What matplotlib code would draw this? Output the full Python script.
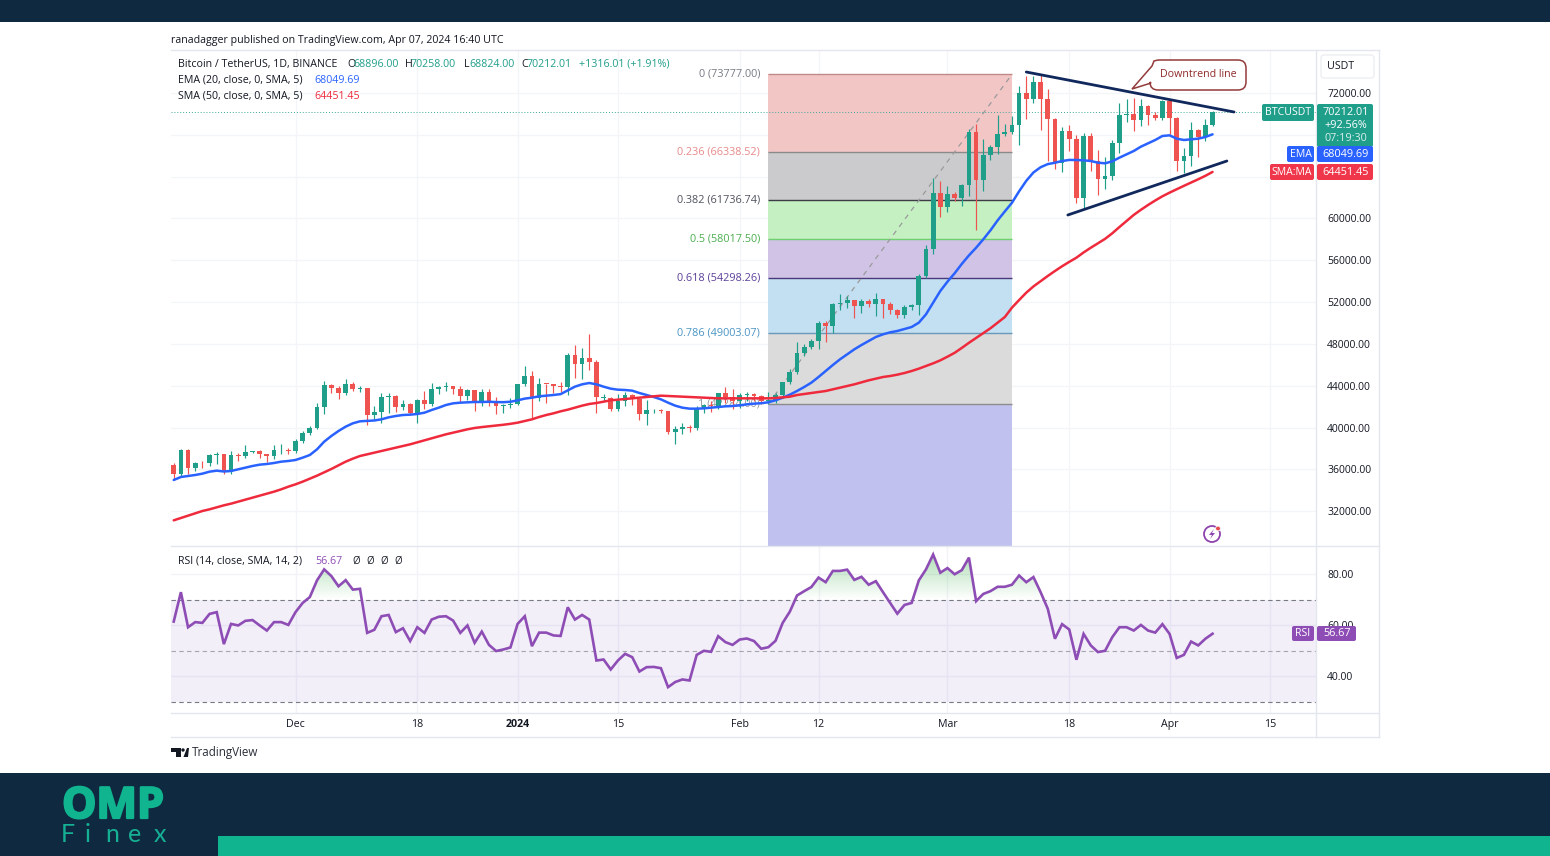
import numpy as np
import matplotlib
matplotlib.use("Agg")
import matplotlib.pyplot as plt
import matplotlib.patheffects as pe
from matplotlib.patches import Rectangle, FancyBboxPatch, PathPatch, Polygon, Circle
from matplotlib.path import Path

# ---------- data ----------
first_day = -17  # day number of first candle, Dec 1 = 0
opens = [36462,35551,37880,36154,36596,36568,37359,37448,35741,37408,37294,37713,37780,37447,37242,37818,37854,
 37723,38682,39457,39973,41980,44080,43773,43293,44187,43720,43790,41243,41450,42890,43022,41940,42278,41374,42657,42270,43668,43861,43970,43702,42991,43576,42508,43428,42563,42066,42140,
 42283,44179,44946,42845,44170,44162,43958,43929,46951,46110,46632,46314,42830,42842,41732,42511,43137,42776,41327,41659,41696,41580,39568,39897,40084,39961,41816,42120,42035,43288,42952,
 42582,43075,43185,42992,42583,42658,43084,44341,45288,47132,47751,48293,49958,49742,51826,51938,52160,51663,52122,51779,52258,51849,51283,50744,51568,51728,54476,57037,62432,
 61130,62387,61980,63168,68245,63724,66074,66823,68124,68313,68955,72000,71470,73072,71388,69499,65300,68393,67609,61937,67840,65501,63796,64037,67211,69880,69988,69451,70780,69850,69582,
 71280,69649,65463,65963,68487,67820,68896]
highs = [36646,37921,37921,36741,36805,37506,37666,37506,37761,37602,38335,37794,37840,37506,38335,38399,38017,
 38910,39675,40152,42320,44456,44201,43978,44616,44350,43978,43810,42065,43340,43340,43090,42639,42320,42756,43500,44233,44000,44393,44000,43940,43659,43600,43659,43658,42925,42250,42798,
 44200,45890,45412,44775,44200,44200,44360,47102,47899,47580,48983,46432,43180,42925,43244,43435,43200,42800,42606,41745,41810,41600,40152,40470,40216,42064,42288,42543,43300,43882,43658,
 43270,43435,43300,43100,43435,43340,44360,45571,48217,47962,48441,50194,50194,51947,52744,52585,52171,52266,52330,52904,52330,52000,51300,51700,51788,54721,57463,63902,63584,
 63105,62500,63265,68600,69000,67600,67000,69900,69000,69800,72670,73626,73626,73777,72351,69641,68780,68908,67952,68143,68143,66549,65880,67473,71012,71395,71554,71395,70900,70183,71331,
 71395,69700,66772,69227,68589,69545,70258]
lows = [35052,35371,35530,35849,36104,36295,36486,35594,35594,36805,37124,37602,37124,36741,36964,37506,37443,
 37538,38527,39260,39834,41332,43277,42703,43085,43500,43436,40248,40790,40471,41428,41523,41683,41268,40471,41746,42065,43245,43500,43181,42448,42607,41587,42065,42064,41267,41427,41905,
 42160,43977,40949,42543,42383,43340,43435,43117,44711,44615,45476,41427,42543,41586,41586,42065,42160,40694,40247,41427,41427,39355,38463,39355,39610,39737,41427,41522,41745,42383,41745,
 41841,42543,42543,42288,42224,42383,42862,44137,45093,46847,47548,47548,48217,49078,51214,51469,50513,50991,51533,50672,50449,50895,50449,50513,51278,50768,54275,56634,60172,
 60651,61671,61193,62149,58865,62627,65600,66200,67900,68047,66995,69482,71076,68462,65497,64700,64477,66453,61448,60938,64540,62213,62851,63680,66294,69227,68366,68844,68908,69418,69418,
 68047,64540,64381,65018,65911,67410,68824]
closes = [35551,37880,36154,36596,36568,37359,37448,35741,37408,37294,37713,37780,37447,37242,37818,37854,37723,
 38682,39457,39973,41980,44080,43773,43293,44187,43720,43790,41243,41450,42890,43022,41940,42278,41374,42657,42270,43668,43861,43970,43702,42991,43576,42508,43428,42563,42066,42140,42283,
 44179,44946,42845,44151,44162,43958,43929,46951,46110,46632,46314,42893,42880,41732,42511,43137,42776,41327,41659,41696,41580,39568,39897,40084,39961,41816,42120,42035,43288,42952,42582,
 43075,43185,42992,42583,42658,43084,44341,45288,47132,47751,48293,49958,49742,51826,51938,52160,51663,52122,51779,52258,51849,51283,50744,51568,51728,54476,57037,62432,61130,
 62387,61980,63168,68245,63724,66074,66823,68124,68313,68955,72000,71470,73072,71388,69499,65300,68393,67609,61937,67840,65501,63796,64037,67211,69880,69988,69451,70780,69850,69582,71280,
 69649,65463,65963,68487,67820,68896,70212]
ema20 = [34988,35275,35371,35466,35594,35785,35880,35800,35849,36008,36168,36327,36455,36518,36614,36741,36805,36901,37124,37379,37921,38654,39196,39674,40089,40408,40600,40640,40680,40791,40981,41109,41205,41236,41300,41428,41683,41906,42161,42320,42384,42416,42448,42448,42470,
 42440,42430,42470,42607,42770,42860,42989,43053,43117,43200,43563,43914,44137,44264,44137,43914,43722,43627,43595,43531,43308,43117,42925,42702,42383,42096,41905,41810,41810,41842,41905,41969,42033,42065,42128,42224,42288,42330,42420,
 42610,42862,43148,43499,43881,44296,44838,45412,45986,46528,47006,47484,47899,48281,48664,48919,49110,49238,49429,49620,50035,50831,51947,53063,53956,54757,55654,56470,57204,58005,58865,59817,60669,
 61500,62600,63600,64400,64900,65200,65330,65497,65600,65592,65561,65497,65337,65274,65465,65815,66134,66453,66868,67186,67505,67888,67952,67633,67505,67569,67633,67792,68049]
sma50 = [31130,31354,31577,31800,32023,32183,32374,32565,32725,32916,33107,33298,33490,33681,33872,34095,34350,34573,34829,35115,35402,35721,36040,36391,36741,37030,37283,37443,37602,37762,37921,38081,38240,38399,38591,38782,38973,39165,39356,39515,39674,39834,39961,40050,40120,
 40190,40270,40360,40471,40630,40789,41013,41204,41363,41555,41714,41905,42097,42256,42351,42479,42607,42670,42734,42798,42862,42925,42989,43053,43021,42989,42957,42925,42893,42862,42830,42798,42798,42798,42798,42798,42798,42798,42798,42830,42893,42957,
 43116,43212,43308,43403,43499,43659,43818,43977,44137,44328,44519,44679,44838,44933,45061,45220,45412,45635,45890,46145,46432,46782,47150,47620,48110,48570,49020,49500,50030,50570,
 51469,52200,52903,53500,54000,54500,54976,55430,55850,56250,56750,57200,57620,58050,58580,59180,59760,60340,60830,61290,61720,62120,62470,62800,63120,63430,63750,64080,64451]
rsi14 = [61.4,72.9,59.2,61.2,60.9,64.4,65.1,52.6,60.5,59.9,61.7,62.0,59.9,57.9,61.2,61.2,60.1,65.1,68.7,71.0,77.5,81.8,79.2,75.2,77.6,73.9,74.2,57.0,58.2,63.5,64.0,57.3,58.8,53.8,59.2,57.0,62.2,63.3,63.5,61.8,57.0,59.9,53.1,57.5,52.3,49.9,50.5,51.3,60.5,63.5,51.8,57.1,57.1,56.0,55.8,67.0,62.2,64.0,62.2,46.2,46.6,42.7,46.2,48.8,47.5,41.9,43.6,43.7,43.2,35.8,37.8,38.8,38.4,48.4,50.0,49.6,55.7,53.4,
 52.3,54.4,54.8,53.8,50.8,51.4,53.9,60.9,65.3,71.6,73.3,74.9,78.6,76.8,81.2,81.2,81.7,77.7,78.9,75.8,77.2,72.9,68.7,64.5,67.9,68.7,77.5,81.8,87.6,80.5,82.3,79.9,81.5,86.4,69.4,72.2,73.3,75.0,75.0,75.8,79.4,76.8,78.8,72.9,66.4,54.7,60.4,58.3,46.5,56.6,52.1,49.5,50.0,55.3,59.2,59.2,57.9,60.1,57.9,57.1,60.4,56.6,47.2,48.4,53.6,52.1,54.7,56.67]
assert len(opens)==len(highs)==len(lows)==len(closes)==len(ema20)==len(sma50)==len(rsi14)==146

price_ticks = [32000,36000,40000,44000,48000,52000,56000,60000,64000,68000,72000]
hidden_price_labels = [64000,68000]   # covered by the price tags in the reference
rsi_ticks = [40,60,80]
time_ticks = [0,17,31,45,62,73,91,108,122,136]
time_labels = ["Dec","18","2024","15","Feb","12","Mar","18","Apr","15"]
fib_levels = [73777.00,66338.52,61736.74,58017.50,54298.26,49003.07,42284.00]
fib_ratio = ["0","0.236","0.382","0.5","0.618","0.786","1"]
fib_line = ["#c08a8a","#8a8a8a","#3c3c46","#6fd06f","#4a3a78","#6a98b8","#8c8c8c"]
fib_fill = ["#f3c6c6","#cbcbcd","#c4f0c2","#d0c3e6","#c3dff2","#dbdbdb"]
fib_text = ["#787b86","#e88a8a","#50535e","#4caf50","#5b3f99","#4a94c4","#9598a1"]
fib_start, fib_end, fib_floor = 66, 100, 28675
down_line_x, down_line_y = [102.0,131.0],[74008,70183]
up_line_x, up_line_y = [107.8,130.0],[60332,65497]

W,H = 1550,856
GREEN,RED,BLUE,SRED,PURPLE = "#1f9e8a","#ef5350","#2962ff","#ee2a3c","#8e4db5"
FONT = "Open Sans"
plt.rcParams["font.family"] = [FONT,"DejaVu Sans"]

fig = plt.figure(figsize=(W/100,H/100),dpi=100,facecolor="white")
def axpx(x0,y0,x1,y1,**k):
    return fig.add_axes([x0/W,1-y1/H,(x1-x0)/W,(y1-y0)/H],**k)

days = first_day + np.arange(len(opens))
xlim = (-17.38,142.44)

# ---------- price pane ----------
ax = axpx(171,51,1316,546)
ax.set_xlim(*xlim); ax.set_ylim(28675,76017)
ax.set_xticks(time_ticks); ax.set_yticks(price_ticks)
ax.grid(True,color="#f3f5f9",lw=1,zorder=0); ax.set_axisbelow(True)
ax.tick_params(left=False,bottom=False,labelleft=False,labelbottom=False,right=False,
               labelright=True,pad=4.5,labelsize=7.5,labelcolor="#131722")
ax.yaxis.set_major_formatter(lambda v,p:"" if v in hidden_price_labels else f"{v:.2f}")
for s in ax.spines.values(): s.set_visible(False)

levels = fib_levels+[fib_floor]
for i,c in enumerate(fib_fill):
    ax.add_patch(Rectangle((fib_start,levels[i+1]),fib_end-fib_start,levels[i]-levels[i+1],fc=c,ec="none",zorder=1))
ax.add_patch(Rectangle((fib_start,fib_floor),fib_end-fib_start,fib_levels[-1]-fib_floor,fc="#c1c1ef",ec="none",zorder=1))
for i,(v,c) in enumerate(zip(fib_levels,fib_line)):
    ax.plot([fib_start,fib_end],[v,v],color=c,lw=1,zorder=1.5,solid_capstyle="butt")
    ax.annotate(f"{fib_ratio[i]} ({v:.2f})",(fib_start,v),xytext=(-6,0),textcoords="offset points",
                ha="right",va="center",fontsize=7.8,color=fib_text[i],zorder=1.6)
ax.plot([fib_start,fib_end],[fib_levels[-1],fib_levels[0]],color="#9a9a9a",lw=0.9,ls=(0,(4,4)),zorder=1.6)
ax.axhline(closes[-1],color="#3fa89a",lw=0.7,ls=(0,(1,2)),zorder=2)

cols = [GREEN if c>=o else RED for o,c in zip(opens,closes)]
ax.vlines(days,lows,highs,colors=cols,lw=0.85,zorder=3)
bodies = [max(abs(c-o),60) for o,c in zip(opens,closes)]
ax.bar(days,bodies,bottom=np.minimum(opens,closes),width=0.66,color=cols,lw=0,zorder=3.1)

ax.plot(days,ema20,color=BLUE,lw=1.8,zorder=4,solid_capstyle="round")
ax.plot(days,sma50,color=SRED,lw=1.8,zorder=4,solid_capstyle="round")
ax.plot(down_line_x,down_line_y,color="#10285c",lw=2,zorder=5,solid_capstyle="round")
ax.plot(up_line_x,up_line_y,color="#10285c",lw=2,zorder=5,solid_capstyle="round")

# ---------- RSI pane ----------
ar = axpx(171,546.5,1316,713.5)
ar.set_xlim(*xlim); ar.set_ylim(25.5,90.74)
ar.set_xticks(time_ticks); ar.set_xticklabels(time_labels); ar.set_yticks(rsi_ticks)
ar.grid(True,color="#f1f3f8",lw=1,zorder=0); ar.set_axisbelow(True)
ar.tick_params(left=False,bottom=False,right=False,labelleft=False,labelright=True,pad=4.5,
               labelsize=7.5,labelcolor="#131722")
ar.tick_params(axis="x",pad=0.3,labelsize=7.7)
ar.yaxis.set_major_formatter(lambda v,p:f"{v:.2f}")
for s in ar.spines.values(): s.set_visible(False)
ar.get_xticklabels()[2].set_fontweight("bold")
ar.axhspan(30,70,color="#7e57c2",alpha=0.095,lw=0,zorder=1)
for v,c in ((70,"#787b86"),(50,"#a5a6ae"),(30,"#787b86")):
    ar.axhline(v,color=c,lw=0.8,ls=(0,(4,3)),zorder=2)
rv = np.array(rsi14,float)
poly = ar.fill_between(days,70,rv,where=rv>70,interpolate=True,color="none")
grad = np.zeros((64,2,4)); grad[...,0]=0.30; grad[...,1]=0.72; grad[...,2]=0.35
grad[...,3] = np.linspace(0.5,0.0,64)[:,None]
im = ar.imshow(grad,extent=[xlim[0],xlim[1],70,90],aspect="auto",zorder=2.5,interpolation="bilinear")
im.set_clip_path(Path.make_compound_path(*poly.get_paths()),transform=ar.transData)
ar.set_xlim(*xlim); ar.set_ylim(25.5,90.74)
ar.plot(days,rsi14,color=PURPLE,lw=1.9,zorder=4,solid_joinstyle="miter")

# ---------- chrome in pixel coordinates ----------
ov = fig.add_axes([0,0,1,1],facecolor="none",zorder=10)
ov.set_xlim(0,W); ov.set_ylim(H,0); ov.axis("off")
def T(x,y,s,c="#131722",fs=8,ha="left",va="center",**k):
    return ov.text(x,y,s,color=c,fontsize=fs,ha=ha,va=va,**k)
def R(x0,y0,x1,y1,c,z=1,**k):
    ov.add_patch(Rectangle((x0,y0),x1-x0,y1-y0,fc=c,ec="none",zorder=z,**k))
def tag(x0,y0,x1,y1,c):
    ov.add_patch(FancyBboxPatch((x0+1,y0+1),x1-x0-2,y1-y0-2,boxstyle="round,pad=1,rounding_size=2",fc=c,ec="none",zorder=3))

NAVY,TEAL = "#0f2a40","#10b48f"
R(0,0,W,22,NAVY); R(0,773,W,H,NAVY); R(218,836,W,H,TEAL,z=2)
BORDER="#e3e6ec"
for (a,b,c,d) in [(171,50,1379,50),(171,737,1379,737),(1379,50,1379,737),(171,713,1379,713),(1316,50,1316,737),(171,546,1379,546)]:
    ov.plot([a,c],[b,d],color=BORDER,lw=1,zorder=1)

T(171,40,"ranadagger published on TradingView.com, Apr 07, 2024 16:40 UTC",fs=7.7)
hdr_y=64
T(178,hdr_y,"Bitcoin / TetherUS, 1D, BINANCE",fs=7.7)
for x,s,c in [(347,"O","#131722"),(353,"68896.00",GREEN),(405,"H","#131722"),(411,"70258.00",GREEN),
              (464,"L","#131722"),(469,"68824.00",GREEN),(521,"C","#131722"),(527,"70212.01",GREEN),
              (579,"+1316.01 (+1.91%)",GREEN)]:
    T(x,hdr_y,s,c,fs=7.7)
T(178,80,"EMA (20, close, 0, SMA, 5)",fs=7.7); T(314,80,"68049.69",BLUE,fs=7.7)
T(178,96,"SMA (50, close, 0, SMA, 5)",fs=7.7); T(314,96,"64451.45",SRED,fs=7.7)
T(178,561,"RSI (14, close, SMA, 14, 2)",fs=7.7); T(315,561,"56.67",PURPLE,fs=7.7)
for x in (352,366,380,394): T(x,561,"Ø",fs=7)

# callout
x0,x1,y0,y1,r = 1150,1246,60,90,8
verts=[(x0+r,y0),(x1-r,y0),(x1,y0),(x1,y0+r),(x1,y1-r),(x1,y1),(x1-r,y1),(x0+r,y1),(x0,y1),(x0,y1-r),(x0+1,83),(1132,89),(x0+2,66),(x0+r-4,y0+1),(x0+r,y0)]
codes=[Path.MOVETO,Path.LINETO,Path.CURVE3,Path.CURVE3,Path.LINETO,Path.CURVE3,Path.CURVE3,Path.LINETO,Path.CURVE3,Path.CURVE3,Path.LINETO,Path.LINETO,Path.LINETO,Path.LINETO,Path.LINETO]
ov.add_patch(PathPatch(Path(verts,codes),fc="white",ec="#933a3a",lw=1.1,zorder=3))
T(1198,74.5,"Downtrend line","#8f2a2a",fs=7.7,ha="center",zorder=4)

# USDT button
ov.add_patch(FancyBboxPatch((1322,56),51,21,boxstyle="round,pad=1,rounding_size=3",fc="white",ec="#eceef2",lw=1,zorder=2))
T(1341,66.5,"USDT",fs=7.7,ha="center",zorder=4)

# right-hand tags
tag(1262,104,1314,121,GREEN); T(1288,112.5,"BTCUSDT","white",fs=7.6,ha="center",zorder=4)
tag(1317,104,1373,147,GREEN)
T(1346,112.5,"70212.01","white",fs=7.8,ha="center",zorder=4)
T(1346,125.5,"+92.56%","white",fs=7.8,ha="center",zorder=4)
T(1346,138.5,"07:19:30","#d6efeb",fs=7.8,ha="center",zorder=4)
tag(1287,146,1314,162,BLUE); T(1300.5,154,"EMA","white",fs=7.6,ha="center",zorder=4)
tag(1317,146,1373,162,BLUE); T(1346,154,"68049.69","white",fs=7.8,ha="center",zorder=4)
tag(1270,164,1314,180,"#f0364a"); T(1292,172,"SMA:MA","white",fs=7.6,ha="center",zorder=4)
tag(1317,164,1373,180,"#f0364a"); T(1346,172,"64451.45","white",fs=7.8,ha="center",zorder=4)
tag(1292,626,1314,641,PURPLE); T(1303,633.5,"RSI","white",fs=7.6,ha="center",zorder=4)
tag(1317,626,1356,641,PURPLE); T(1337,633.5,"56.67","white",fs=7.8,ha="center",zorder=4)

# lightning icon
ov.add_patch(Circle((1212,534),8,fc="white",ec="#8e44ad",lw=1.3,zorder=3))
ov.add_patch(Polygon([(1214,529),(1209,535),(1212,535),(1210,539),(1215,533),(1212,533)],fc="#8e44ad",ec="none",zorder=4))
ov.add_patch(Circle((1218,528.5),2.4,fc="#e5484d",ec="white",lw=0.6,zorder=5))

# TradingView mark
ov.add_patch(Polygon([(171,748),(181,748),(181,757),(176,757),(176,752),(171,752)],fc="#131722",ec="none",zorder=3))
ov.add_patch(Circle((183,750),1.7,fc="#131722",ec="none",zorder=3))
ov.add_patch(Polygon([(183.5,757),(187,748),(189,748),(188,757)],fc="#131722",ec="none",zorder=3))
T(192,752.5,"TradingView","#2a2e39",fs=8.4)

# OMP Finex logo
T(113,806.5,"OMP",TEAL,fs=31,ha="center",fontweight="bold",zorder=4,
  path_effects=[pe.withStroke(linewidth=1.6,foreground=TEAL)])
for x,s in [(67.5,"F"),(88,"i"),(112,"n"),(135,"e"),(159.5,"x")]:
    T(x,834,s,"#16b094",fs=18,ha="center",family="Lato",zorder=4)

fig.savefig("out.png",dpi=100,facecolor="white")
